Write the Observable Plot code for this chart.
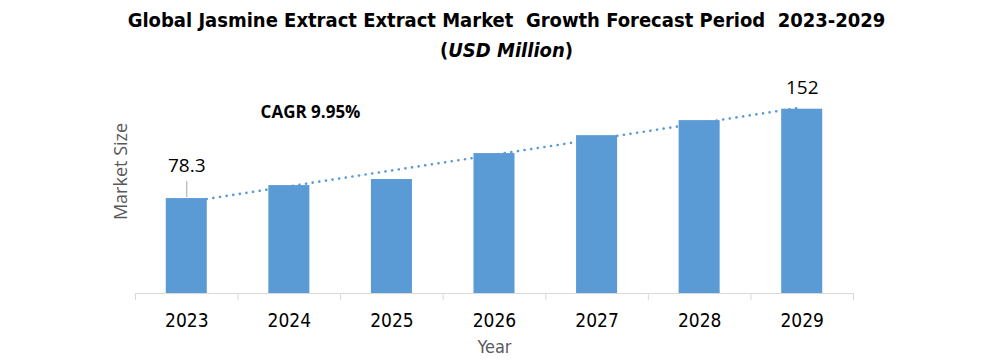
<!DOCTYPE html>
<html>
<head>
<meta charset="utf-8">
<script src="https://cdn.jsdelivr.net/npm/d3@7"></script>
<script src="https://cdn.jsdelivr.net/npm/@observablehq/plot@0.6"></script>
<style>
  html, body { margin: 0; padding: 0; background: #fff; }
  #wrap { width: 985px; height: 361px; position: relative; overflow: hidden; }
  #title { height: 68px; box-sizing: border-box; padding-top: 5px; padding-left: 28px; text-align: center;
    font-family: "Liberation Sans Narrow", "DejaVu Sans Condensed", "Open Sans", sans-serif; font-weight: bold;
    font-size: 20px; line-height: 30px; color: #000; white-space: pre; }
  #chart svg { display: block; }
</style>
</head>
<body>
<div id="wrap">
  <div id="title">Global Jasmine Extract Extract Market  Growth Forecast Period  2023-2029<br>(<i>USD Million</i>)</div>
  <div id="chart"></div>
</div>
<script>
const years = [2023, 2024, 2025, 2026, 2027, 2028, 2029];
const values = [78.3, 89.0, 94.0, 115.4, 130.2, 142.6, 152];
const cagrLabel = "CAGR 9.95%";
const xTitle = "Year";
const yTitle = "Market Size";

const data = years.map((year, i) => ({year, value: values[i]}));
const boundaries = years.map(y => y - 0.5).concat([years[years.length - 1] + 0.5]);
const first = [data[0]];
const last = [data[data.length - 1]];

const narrow = '"Liberation Sans Narrow", "DejaVu Sans Condensed", "Open Sans", sans-serif';
const openSans = '"Open Sans", sans-serif';
const blue = "#5b9bd5";

const chart = Plot.plot({
  width: 985,
  height: 293,
  marginLeft: 135,
  marginRight: 132,
  marginTop: 31,
  marginBottom: 68,
  style: {background: "white", fontFamily: openSans},
  x: {type: "linear", domain: [2022.5, 2029.5], label: null},
  y: {domain: [0, 160], axis: null, label: null},
  marks: [
    Plot.rectY(data, {x1: d => d.year - 0.2, x2: d => d.year + 0.2, y: "value", fill: blue}),
    Plot.linearRegressionY(data, {x: "year", y: "value", ci: 0, stroke: blue, strokeWidth: 2.6,
      strokeDasharray: "0.1,6.6", strokeLinecap: "round"}),
    Plot.ruleY([0], {stroke: "#d9d9d9", strokeWidth: 1}),
    Plot.axisX({ticks: boundaries, tickSize: 7, tickFormat: () => "", stroke: "#d9d9d9", label: null}),
    Plot.axisX({ticks: years, tickSize: 0, tickPadding: 20, tickFormat: d => String(d), fontSize: 19,
      fontFamily: narrow, fill: "#000", label: null}),
    Plot.ruleX(first, {x: "year", y1: "value", y2: "value", insetTop: -17, insetBottom: 1, stroke: "#a6a6a6", strokeWidth: 1}),
    Plot.text(first, {x: "year", y: "value", text: d => String(d.value), dy: -33, fontSize: 19, fontFamily: openSans, fill: "#000"}),
    Plot.text(last, {x: "year", y: "value", text: d => String(d.value), dy: -21, fontSize: 19, fontFamily: openSans, fill: "#000"}),
    Plot.text([cagrLabel], {frameAnchor: "top-left", textAnchor: "middle", lineAnchor: "middle", dx: 175, dy: 13,
      text: d => d, fontSize: 17, fontWeight: "bold", fontFamily: openSans, fill: "#000"}),
    Plot.text([yTitle], {frameAnchor: "left", textAnchor: "middle", lineAnchor: "middle", dx: -14, dy: -25, rotate: -90,
      text: d => d, fontSize: 18, fontFamily: openSans, fill: "#595959"}),
    Plot.text([xTitle], {frameAnchor: "bottom", textAnchor: "middle", lineAnchor: "middle", dy: 54,
      text: d => d, fontSize: 18, fontFamily: narrow, fill: "#595959"})
  ]
});
document.getElementById("chart").appendChild(chart);
</script>
</body>
</html>
